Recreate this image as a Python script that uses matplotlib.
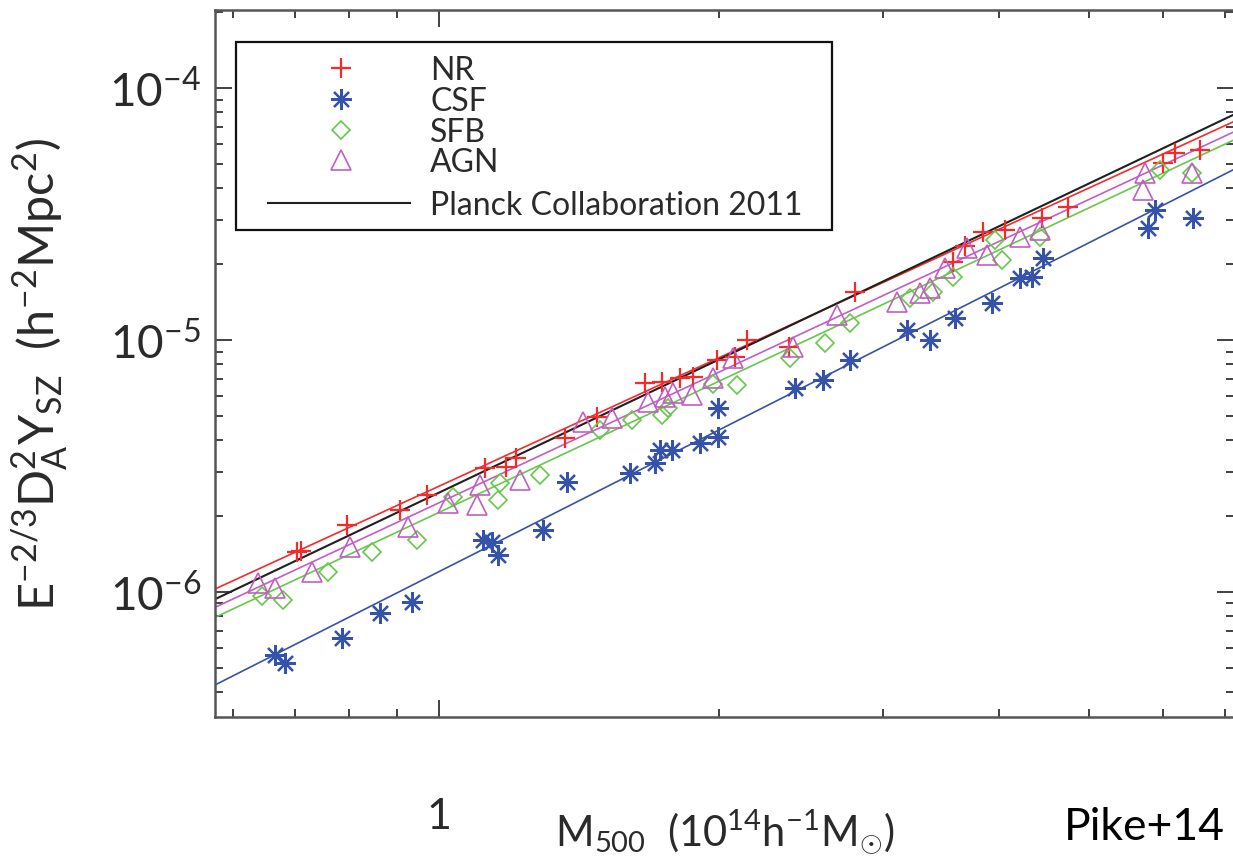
import numpy as np
import matplotlib
matplotlib.use("Agg")
import matplotlib.pyplot as plt
from matplotlib.ticker import FixedLocator, LogLocator, NullFormatter, FixedFormatter
from matplotlib.patches import Rectangle

plt.rcParams['font.family'] = ['Lato', 'DejaVu Sans']
plt.rcParams['mathtext.fontset'] = 'custom'
plt.rcParams['mathtext.rm'] = 'Lato'
plt.rcParams['mathtext.it'] = 'Lato:italic'
plt.rcParams['mathtext.bf'] = 'Lato:bold'
plt.rcParams['mathtext.sf'] = 'Lato'

# ---------------- data ----------------
nr_m = [0.704, 0.711, 0.796, 0.908, 0.971, 1.121, 1.180, 1.210, 1.366, 1.479,
        1.665, 1.737, 1.816, 1.876, 1.990, 2.081, 2.144, 2.378, 2.802, 3.570,
        3.678, 3.846, 4.061, 4.450, 4.748, 6.003, 6.184, 6.581]
nr_y = [1.441e-6, 1.454e-6, 1.845e-6, 2.115e-6, 2.426e-6, 3.105e-6, 3.133e-6, 3.402e-6,
        4.083e-6, 4.947e-6, 6.753e-6, 6.814e-6, 7.068e-6, 7.133e-6, 8.329e-6, 8.561e-6,
        1.000e-5, 9.380e-6, 1.551e-5, 2.039e-5, 2.360e-5, 2.683e-5, 2.733e-5, 3.049e-5,
        3.371e-5, 5.040e-5, 5.520e-5, 5.675e-5]

csf_m = [0.666, 0.683, 0.786, 0.864, 0.935, 1.115, 1.140, 1.157, 1.294, 1.373,
         1.605, 1.707, 1.728, 1.780, 1.909, 1.995, 1.995, 2.414, 2.588, 2.767,
         3.186, 3.373, 3.588, 3.932, 4.215, 4.343, 4.462, 5.785, 5.886, 6.468]
csf_y = [5.623e-7, 5.227e-7, 6.571e-7, 8.254e-7, 9.127e-7, 1.608e-6, 1.579e-6, 1.402e-6,
         1.762e-6, 2.732e-6, 2.967e-6, 3.250e-6, 3.661e-6, 3.661e-6, 3.903e-6, 4.122e-6,
         5.372e-6, 6.449e-6, 6.939e-6, 8.329e-6, 1.096e-5, 1.000e-5, 1.223e-5, 1.402e-5,
         1.762e-5, 1.778e-5, 2.115e-5, 2.783e-5, 3.281e-5, 3.049e-5]

sfb_m = [0.645, 0.680, 0.760, 0.847, 0.947, 1.035, 1.157, 1.163, 1.284, 1.490,
         1.613, 1.737, 1.763, 1.971, 2.091, 2.385, 2.601, 2.767, 3.210, 3.398,
         3.570, 3.961, 4.031, 4.428, 5.959, 6.452]
sfb_y = [9.641e-7, 9.297e-7, 1.2005e-6, 1.441e-6, 1.608e-6, 2.382e-6, 2.318e-6, 2.707e-6,
         2.912e-6, 4.394e-6, 4.814e-6, 5.040e-6, 5.372e-6, 6.690e-6, 6.629e-6, 8.483e-6,
         9.730e-6, 1.168e-5, 1.468e-5, 1.551e-5, 1.778e-5, 2.493e-5, 2.077e-5, 2.563e-5,
         4.727e-5, 4.600e-5]

agn_m = [0.639, 0.666, 0.730, 0.802, 0.926, 1.023, 1.099, 1.107, 1.222, 1.428,
         1.535, 1.678, 1.750, 1.785, 1.871, 1.971, 2.071, 2.402, 2.679, 3.109,
         3.290, 3.373, 3.499, 3.696, 3.884, 4.215, 4.428, 5.742, 5.715, 6.452]
agn_y = [1.086e-6, 1.037e-6, 1.2005e-6, 1.509e-6, 1.811e-6, 2.255e-6, 2.214e-6, 2.658e-6,
         2.783e-6, 4.727e-6, 4.903e-6, 5.675e-6, 5.940e-6, 6.162e-6, 6.050e-6, 7.068e-6,
         8.483e-6, 9.380e-6, 1.257e-5, 1.415e-5, 1.537e-5, 1.608e-5, 1.931e-5, 2.317e-5,
         2.175e-5, 2.563e-5, 2.733e-5, 4.600e-5, 3.936e-5, 4.600e-5]

# power-law fits Y = A * M^B
fit_names = ['NR', 'CSF', 'SFB', 'AGN', 'Planck Collaboration 2011']
fit_norm = [2.63e-6, 1.205e-6, 2.07e-6, 2.26e-6, 2.48e-6]
fit_slope = [1.693, 1.867, 1.729, 1.722, 1.755]

legend_labels = ['NR', 'CSF', 'SFB', 'AGN', 'Planck Collaboration 2011']

# ---------------- styles ----------------
c_nr = '#f52a2a'
c_csf = '#3553a8'
c_sfb = '#66c84a'
c_agn = '#c25ec2'
c_pl = '#202020'
text_col = '#2a2a2a'
spine_col = '#555555'

W, H = 1233, 858
fig = plt.figure(figsize=(W / 100, H / 100), dpi=100)
ax_l, ax_r, ax_t, ax_b = 215, 1234, 10, 717
ax = fig.add_axes([ax_l / W, (H - ax_b) / H, (ax_r - ax_l) / W, (ax_b - ax_t) / H])
ax.set_xscale('log')
ax.set_yscale('log')
ax.set_xlim(0.574, 7.16)
ax.set_ylim(3.19e-7, 2.04e-4)

mgrid = np.array(ax.get_xlim())
fit_cols = [c_nr, c_csf, c_sfb, c_agn, c_pl]
for name, A, B, c in zip(fit_names, fit_norm, fit_slope, fit_cols):
    lw = 1.5 if name.startswith('Planck') else 1.2
    ax.plot(mgrid, A * mgrid ** B, color=c, lw=lw, zorder=2)

ax.plot(nr_m, nr_y, ls='none', marker='+', ms=15, mew=1.6, color=c_nr, zorder=3)
ax.plot(csf_m, csf_y, ls='none', marker=(8, 2, 0), ms=15, mew=1.6, color=c_csf, zorder=3)
ax.plot(sfb_m, sfb_y, ls='none', marker='D', ms=9.5, mew=1.2, mfc='none', mec=c_sfb, zorder=3)
ax.plot(agn_m, agn_y, ls='none', marker='^', ms=14, mew=1.2, mfc='none', mec=c_agn, zorder=3)

# axes styling
for s in ax.spines.values():
    s.set_color(spine_col)
    s.set_linewidth(1.8)
ax.xaxis.set_major_locator(FixedLocator([1.0]))
ax.xaxis.set_major_formatter(FixedFormatter(['1']))
ax.xaxis.set_minor_locator(LogLocator(base=10, subs=np.arange(2, 10)))
ax.xaxis.set_minor_formatter(NullFormatter())
ax.yaxis.set_major_locator(FixedLocator([1e-6, 1e-5, 1e-4]))
ax.yaxis.set_major_formatter(FixedFormatter([r'$\mathrm{10^{-6}}$', r'$\mathrm{10^{-5}}$', r'$\mathrm{10^{-4}}$']))
ax.yaxis.set_minor_locator(LogLocator(base=10, subs=np.arange(2, 10)))
ax.yaxis.set_minor_formatter(NullFormatter())
ax.tick_params(which='both', direction='in', top=True, right=True, color='#333333')
ax.tick_params(which='major', length=12, width=1.3)
ax.tick_params(which='minor', length=6, width=1.3)
ax.tick_params(axis='y', which='major', labelsize=33, pad=10, labelcolor=text_col)
ax.tick_params(axis='x', which='major', labelsize=31, pad=58, labelcolor=text_col)

# legend drawn by hand in axes coordinates
def ax_x(px):
    return (px - ax_l) / (ax_r - ax_l)

def ax_y(py):
    return (ax_b - py) / (ax_b - ax_t)

ax.add_patch(Rectangle((ax_x(236), ax_y(230)), ax_x(832) - ax_x(236), ax_y(42) - ax_y(230),
                       transform=ax.transAxes, fill=True, facecolor='white',
                       edgecolor='#111111', lw=1.6, zorder=5))
rows = [68, 99, 130, 160, 203]
mk_x = ax_x(341)
txt_x = ax_x(430)
ax.plot([mk_x], [ax_y(rows[0])], transform=ax.transAxes, marker='+', ms=15, mew=1.6, color=c_nr, zorder=6)
ax.plot([mk_x], [ax_y(rows[1])], transform=ax.transAxes, marker=(8, 2, 0), ms=15, mew=1.6, color=c_csf, zorder=6)
ax.plot([mk_x], [ax_y(rows[2])], transform=ax.transAxes, marker='D', ms=9.5, mew=1.2, mfc='none', mec=c_sfb, zorder=6)
ax.plot([mk_x], [ax_y(rows[3])], transform=ax.transAxes, marker='^', ms=14, mew=1.2, mfc='none', mec=c_agn, zorder=6)
ax.plot([ax_x(268), ax_x(410)], [ax_y(rows[4])] * 2, transform=ax.transAxes, color=c_pl, lw=1.5, zorder=6)
for lab, r in zip(legend_labels, rows):
    ax.text(txt_x, ax_y(r), lab, transform=ax.transAxes, fontsize=23, color=text_col,
            va='center_baseline', ha='left', zorder=7)

# axis titles
fig.text(725 / W, 1 - 832 / H, r'M$_{\mathrm{500}}$  (10$^{\mathrm{14}}$h$^{\mathrm{-1}}$M$_{\odot}$)',
         fontsize=30, color=text_col, ha='center', va='center')
fig.text(40 / W, 1 - 374 / H, r'E$^{\mathrm{-2/3}}$D$_{\mathrm{A}}^{\mathrm{2}}$Y$_{\mathrm{SZ}}$  (h$^{\mathrm{-2}}$Mpc$^{\mathrm{2}}$)',
         fontsize=35, color=text_col, ha='center', va='center', rotation=90)
fig.text(1225 / W, 1 - 828 / H, 'Pike+14', fontsize=32, color='black', ha='right', va='center')

fig.savefig('out.png', dpi=100, facecolor='white')
